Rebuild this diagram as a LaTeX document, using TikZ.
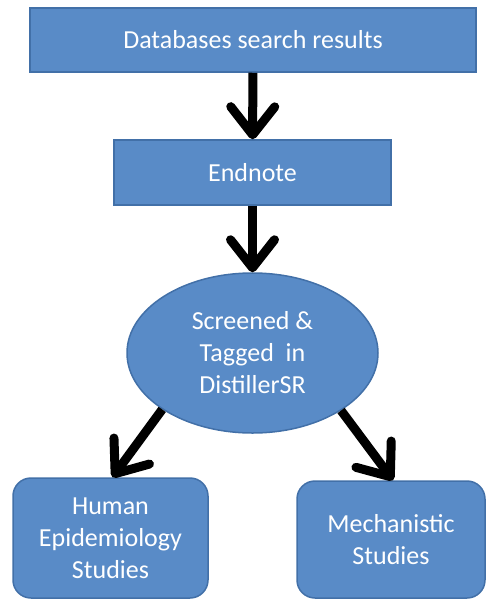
\documentclass[tikz,border=0pt]{standalone}
\usepackage{fontspec}
\setmainfont{Carlito}
\usetikzlibrary{arrows.meta,shapes.geometric}
\definecolor{boxblue}{RGB}{89,139,199}
\definecolor{boxline}{RGB}{66,112,168}
\begin{document}
\begin{tikzpicture}[x=1pt, y=-1pt,
    box/.style={draw=boxline, fill=boxblue, line width=1.5pt, text=white,
        align=center, inner sep=0pt, font=\fontsize{26}{32}\selectfont},
    flow/.style={line width=9pt, -{Straight Barb[length=28pt,width=44pt,round]}}]
    \useasboundingbox (0, 0) rectangle (486, 600);
    \node[box, minimum width=446pt, minimum height=64pt] (db) at (253, 40) {Databases search results};
    \node[box, minimum width=277pt, minimum height=65pt] (endnote) at (252.5, 172.5) {Endnote};
    \node[box, ellipse, minimum width=251pt, minimum height=160pt] (scr) at (252.5, 353) {Screened \&\\Tagged~ in\\DistillerSR};
    \node[box, rounded corners=18pt, minimum width=195pt, minimum height=120pt] (hum) at (110.5, 538) {Human\\Epidemiology\\Studies};
    \node[box, rounded corners=18pt, minimum width=188pt, minimum height=117pt] (mech) at (391, 539.5) {Mechanistic\\Studies};
    \draw[flow] (db) -- (endnote);
    \draw[flow] (endnote) -- (scr);
    \draw[flow] (scr.212) -- ([xshift=2pt]hum.north);
    \draw[flow] (scr.-33) -- ([xshift=2pt]mech.north);
\end{tikzpicture}
\end{document}
